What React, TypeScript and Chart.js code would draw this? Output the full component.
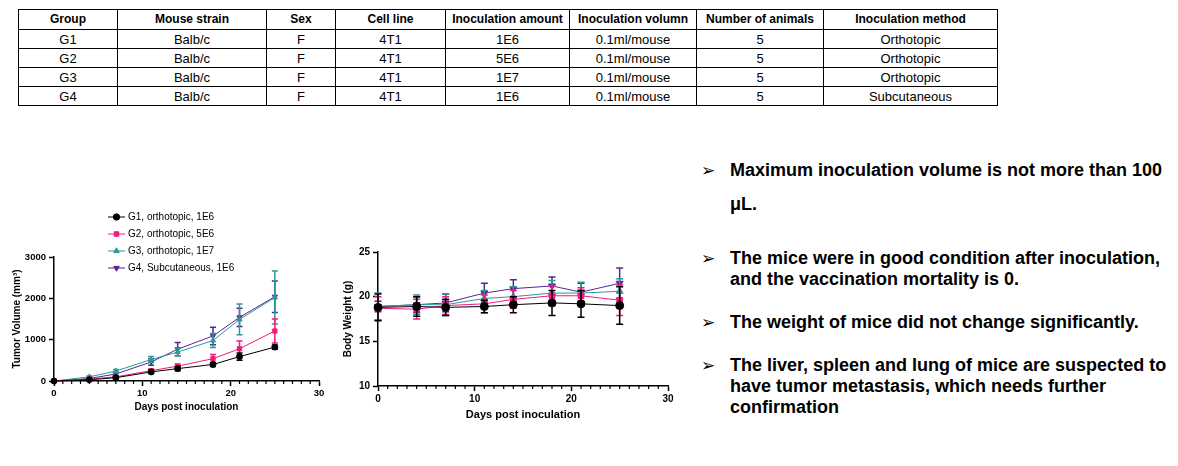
import React, { useEffect, useRef } from 'react';
import { Chart, registerables } from 'chart.js';
import { drawPoint } from 'chart.js/helpers';

Chart.register(...registerables);

// ---------- Table data ----------
const tableHeaders = ['Group', 'Mouse strain', 'Sex', 'Cell line', 'Inoculation amount', 'Inoculation volumn', 'Number of animals', 'Inoculation method'];
const tableRows = [
  ['G1', 'Balb/c', 'F', '4T1', '1E6', '0.1ml/mouse', '5', 'Orthotopic'],
  ['G2', 'Balb/c', 'F', '4T1', '5E6', '0.1ml/mouse', '5', 'Orthotopic'],
  ['G3', 'Balb/c', 'F', '4T1', '1E7', '0.1ml/mouse', '5', 'Orthotopic'],
  ['G4', 'Balb/c', 'F', '4T1', '1E6', '0.1ml/mouse', '5', 'Subcutaneous'],
];

// ---------- Chart data ----------
const days = [0, 4, 7, 11, 14, 18, 21, 25];
const groupLabels = ['G1, orthotopic, 1E6', 'G2, orthotopic, 5E6', 'G3, orthotopic, 1E7', 'G4, Subcutaneous, 1E6'];

const tumorG1 = [0, 30, 80, 220, 300, 400, 590, 820];
const tumorG1Err = [0, 15, 30, 40, 50, 50, 90, 50];
const tumorG2 = [0, 45, 100, 250, 360, 540, 780, 1210];
const tumorG2Err = [0, 15, 30, 40, 50, 100, 190, 290];
const tumorG3 = [0, 100, 240, 520, 700, 980, 1490, 2020];
const tumorG3Err = [0, 20, 40, 70, 90, 170, 370, 640];
const tumorG4 = [0, 60, 170, 460, 770, 1090, 1540, 2040];
const tumorG4Err = [0, 20, 40, 80, 160, 210, 220, 380];

const weightG1 = [18.8, 18.9, 18.8, 18.9, 19.1, 19.3, 19.2, 19.0];
const weightG1Err = [1.5, 1.1, 0.9, 0.7, 0.9, 1.4, 1.5, 2.1];
const weightG2 = [18.7, 18.6, 19.0, 19.2, 19.7, 20.1, 20.1, 19.6];
const weightG2Err = [1.3, 1.1, 1.0, 1.0, 1.0, 1.1, 0.9, 1.7];
const weightG3 = [18.9, 19.1, 19.1, 19.8, 20.0, 20.4, 20.4, 20.6];
const weightG3Err = [1.5, 1.1, 1.2, 0.9, 1.1, 1.4, 1.2, 1.4];
const weightG4 = [18.9, 19.1, 19.3, 20.4, 20.9, 21.2, 20.5, 21.5];
const weightG4Err = [0.6, 0.9, 1.0, 1.1, 1.0, 1.0, 1.0, 1.7];

const tumorTicks = [0, 1000, 2000, 3000];
const weightTicks = [10, 15, 20, 25];
const dayTicks = [0, 10, 20, 30];

const groupColors = ['#000000', '#F4197C', '#2A9A98', '#5B2396'];
const groupStyles = ['circle', 'rect', 'triangle', 'triangle'];
const groupRotations = [0, 0, 0, 180];

const FONT = "'Liberation Sans', Arial, sans-serif";

// ---------- Plugins ----------
const errorBarPlugin = {
  id: 'errorBars',
  beforeDatasetDraw(chart: any, args: any, opts: any) {
    const ds = chart.data.datasets[args.index];
    const errs = ds.errors;
    if (!errs) return;
    const ctx = chart.ctx;
    const yScale = chart.scales.y;
    const cap = opts.cap ?? 3;
    ctx.save();
    ctx.strokeStyle = ds.borderColor;
    ctx.lineWidth = opts.width ?? 1.5;
    args.meta.data.forEach((pt: any, i: number) => {
      const e = errs[i];
      if (!e) return;
      const v = ds.data[i].y;
      const x = pt.x;
      const yt = yScale.getPixelForValue(v + e);
      const yb = yScale.getPixelForValue(v - e);
      ctx.beginPath();
      ctx.moveTo(x, yt); ctx.lineTo(x, yb);
      ctx.moveTo(x - cap, yt); ctx.lineTo(x + cap, yt);
      ctx.moveTo(x - cap, yb); ctx.lineTo(x + cap, yb);
      ctx.stroke();
    });
    ctx.restore();
  },
};

const minorTickPlugin = {
  id: 'minorTicks',
  afterDraw(chart: any, _args: any, opts: any) {
    const xs = chart.scales.x;
    const ctx = chart.ctx;
    ctx.save();
    ctx.strokeStyle = '#000';
    ctx.lineWidth = 1.2;
    for (let v = xs.min; v <= xs.max; v += 1) {
      if (v % 10 === 0) continue;
      const px = xs.getPixelForValue(v);
      ctx.beginPath();
      ctx.moveTo(px, xs.top);
      ctx.lineTo(px, xs.top + (opts.length ?? 3));
      ctx.stroke();
    }
    ctx.restore();
  },
};

const seriesLegendPlugin = {
  id: 'seriesLegend',
  afterDraw(chart: any, _args: any, opts: any) {
    if (!opts || !opts.display) return;
    const ctx = chart.ctx;
    chart.data.datasets.forEach((ds: any, i: number) => {
      const y = opts.top + i * opts.spacing;
      ctx.save();
      ctx.strokeStyle = ds.borderColor;
      ctx.lineWidth = 1;
      ctx.beginPath();
      ctx.moveTo(opts.x, y);
      ctx.lineTo(opts.x + opts.lineLength, y);
      ctx.stroke();
      ctx.fillStyle = ds.backgroundColor;
      drawPoint(ctx, { pointStyle: ds.pointStyle, rotation: ds.pointRotation || 0, radius: opts.radius, borderWidth: 1 } as any, opts.x + opts.lineLength / 2, y);
      ctx.fillStyle = '#000';
      ctx.font = `${opts.fontSize}px ${FONT}`;
      ctx.textBaseline = 'middle';
      ctx.textAlign = 'left';
      ctx.fillText(ds.label, opts.x + opts.lineLength + 3, y);
      ctx.restore();
    });
  },
};

function makeDatasets(values: number[][], errors: number[][], radius: number) {
  return values.map((vals, g) => ({
    label: groupLabels[g],
    data: days.map((d, i) => ({ x: d, y: vals[i] })),
    errors: errors[g],
    borderColor: groupColors[g],
    backgroundColor: groupColors[g],
    pointStyle: groupStyles[g],
    pointRotation: groupRotations[g],
    pointRadius: radius,
    pointBorderWidth: 1,
    borderWidth: 1,
    tension: 0,
    clip: false as any,
  }));
}

type ChartProps = {
  width: number; height: number;
  values: number[][]; errors: number[][];
  yMin: number; yMax: number; yTicks: number[];
  yTitle: string; xTitle: string;
  yAxisWidth: number; xAxisHeight: number;
  padTop: number; padRight: number;
  tickFont: number; xTitleFont: number; yTitleFont: number;
  xTitlePadBottom: number; yTitlePadTop: number;
  radius: number; cap: number;
  legend?: any;
};

function PlotChart(p: ChartProps) {
  const ref = useRef<HTMLCanvasElement>(null);
  useEffect(() => {
    if (!ref.current) return;
    const chart = new Chart(ref.current, {
      type: 'line',
      data: { datasets: makeDatasets(p.values, p.errors, p.radius) as any },
      plugins: [errorBarPlugin, minorTickPlugin, seriesLegendPlugin] as any,
      options: {
        responsive: false,
        animation: false,
        layout: { padding: { top: p.padTop, right: p.padRight, left: 0, bottom: 0 } },
        scales: {
          x: {
            type: 'linear',
            min: 0, max: 30,
            afterFit: (s: any) => { s.height = p.xAxisHeight; },
            afterBuildTicks: (s: any) => { s.ticks = dayTicks.map((v) => ({ value: v })); },
            ticks: { color: '#000', font: { family: FONT, size: p.tickFont, weight: 'bold' }, padding: 2, maxRotation: 0, callback: (v: any) => String(v) },
            grid: { drawOnChartArea: false, drawTicks: true, tickLength: 5, tickColor: '#000', tickWidth: 1.5 },
            border: { color: '#000', width: 1.5 },
            title: { display: true, text: p.xTitle, color: '#000', font: { family: FONT, size: p.xTitleFont, weight: 'bold' }, padding: { top: 0, bottom: p.xTitlePadBottom } },
          },
          y: {
            type: 'linear',
            min: p.yMin, max: p.yMax,
            afterFit: (s: any) => { s.width = p.yAxisWidth; },
            afterBuildTicks: (s: any) => { s.ticks = p.yTicks.map((v) => ({ value: v })); },
            ticks: { color: '#000', font: { family: FONT, size: p.tickFont, weight: 'bold' }, padding: 3, callback: (v: any) => String(v) },
            grid: { drawOnChartArea: false, drawTicks: true, tickLength: 5, tickColor: '#000', tickWidth: 1.5 },
            border: { color: '#000', width: 1.5 },
            title: { display: true, text: p.yTitle, color: '#000', font: { family: FONT, size: p.yTitleFont, weight: 'bold' }, padding: { top: p.yTitlePadTop, bottom: 0 } },
          },
        },
        plugins: {
          legend: { display: false },
          tooltip: { enabled: false },
          errorBars: { cap: p.cap, width: 1.5 },
          minorTicks: { length: 3 },
          seriesLegend: p.legend || { display: false },
        } as any,
      },
    });
    return () => chart.destroy();
  }, []);
  return <canvas ref={ref} width={p.width} height={p.height} style={{ width: p.width, height: p.height, display: 'block' }} />;
}

const bulletLines: { text: string; y: number; arrow?: boolean }[] = [
  { text: 'Maximum inoculation volume is not more than 100', y: 171, arrow: true },
  { text: 'μL.', y: 205 },
  { text: 'The mice were in good condition after inoculation,', y: 259, arrow: true },
  { text: 'and the vaccination mortality is 0.', y: 280 },
  { text: 'The weight of mice did not change significantly.', y: 323, arrow: true },
  { text: 'The liver, spleen and lung of mice are suspected to', y: 366, arrow: true },
  { text: 'have tumor metastasis, which needs further', y: 387 },
  { text: 'confirmation', y: 408 },
];

const colWidths = [99, 149, 69, 110, 124, 127, 127, 174];

export default function App() {
  const cell: React.CSSProperties = { border: '1px solid #000', padding: 0, textAlign: 'center', whiteSpace: 'nowrap', overflow: 'hidden', lineHeight: '17px' };
  return (
    <div style={{ position: 'absolute', left: 0, top: 0, width: 1178, height: 466, background: '#fff', overflow: 'hidden', fontFamily: FONT }}>
      <table style={{ position: 'absolute', left: 18, top: 9, borderCollapse: 'collapse', tableLayout: 'fixed', width: 979, color: '#000' }}>
        <colgroup>
          {colWidths.map((w, i) => <col key={i} style={{ width: w }} />)}
        </colgroup>
        <tbody>
          <tr style={{ height: 20 }}>
            {tableHeaders.map((h, i) => <td key={i} style={{ ...cell, fontWeight: 'bold', fontSize: 12 }}>{h}</td>)}
          </tr>
          {tableRows.map((r, ri) => (
            <tr key={ri} style={{ height: 19 }}>
              {r.map((c, ci) => <td key={ci} style={{ ...cell, fontSize: 13 }}>{c}</td>)}
            </tr>
          ))}
        </tbody>
      </table>

      <div style={{ position: 'absolute', left: 0, top: 200 }}>
        <PlotChart
          width={330} height={225}
          values={[tumorG1, tumorG2, tumorG3, tumorG4]}
          errors={[tumorG1Err, tumorG2Err, tumorG3Err, tumorG4Err]}
          yMin={0} yMax={3000} yTicks={tumorTicks}
          yTitle={'Tumor Volume (mm³)'} xTitle={'Days post inoculation'}
          yAxisWidth={54} xAxisHeight={44} padTop={57} padRight={11}
          tickFont={9.5} xTitleFont={10} yTitleFont={10}
          xTitlePadBottom={12} yTitlePadTop={11}
          radius={3} cap={3}
          legend={{ display: true, x: 108, lineLength: 17, top: 17, spacing: 17, radius: 3.2, fontSize: 10 }}
        />
      </div>

      <div style={{ position: 'absolute', left: 330, top: 230 }}>
        <PlotChart
          width={350} height={200}
          values={[weightG1, weightG2, weightG3, weightG4]}
          errors={[weightG1Err, weightG2Err, weightG3Err, weightG4Err]}
          yMin={10} yMax={25} yTicks={weightTicks}
          yTitle={'Body Weight (g)'} xTitle={'Days post inoculation'}
          yAxisWidth={48} xAxisHeight={44} padTop={22} padRight={12}
          tickFont={10} xTitleFont={11} yTitleFont={10}
          xTitlePadBottom={8} yTitlePadTop={12}
          radius={4} cap={3.5}
        />
      </div>

      {bulletLines.map((l, i) => (
        <React.Fragment key={i}>
          {l.arrow && (
            <div style={{ position: 'absolute', left: 701, top: l.y - 11, fontFamily: "'DejaVu Sans', sans-serif", fontSize: 17, lineHeight: '20px', color: '#000' }}>➢</div>
          )}
          <div style={{ position: 'absolute', left: 730, top: l.y - 11, fontSize: 18, lineHeight: '21px', fontWeight: 'bold', color: '#000', whiteSpace: 'nowrap' }}>{l.text}</div>
        </React.Fragment>
      ))}
    </div>
  );
}
